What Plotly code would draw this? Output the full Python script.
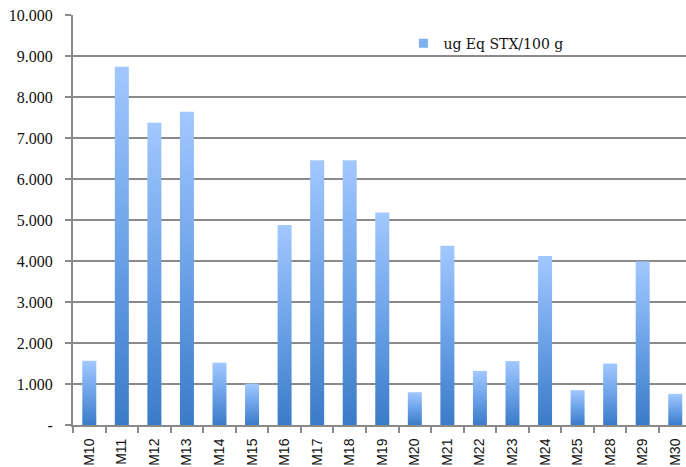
import plotly.graph_objects as go

# Toxicity per sample (ug Eq STX/100 g)
samples = ["M10", "M11", "M12", "M13", "M14", "M15", "M16", "M17", "M18", "M19",
           "M20", "M21", "M22", "M23", "M24", "M25", "M28", "M29", "M30"]
toxicity = [1570, 8740, 7370, 7640, 1520, 1010, 4880, 6460, 6460, 5180,
            800, 4370, 1320, 1560, 4120, 850, 1500, 3990, 760]
series_name = "ug Eq STX/100 g"

y_tick_values = [0, 1000, 2000, 3000, 4000, 5000, 6000, 7000, 8000, 9000, 10000]
y_tick_labels = ["-", "1.000", "2.000", "3.000", "4.000", "5.000",
                 "6.000", "7.000", "8.000", "9.000", "10.000"]

DARK = "#3a7bc8"
MID = "#6ca2e8"
LIGHT = "#a2c8ff"
GRID = "#8a8a8a"
HALF_W = 0.215

fig = go.Figure()

# each bar is a filled rectangle with its own vertical gradient (dark bottom, light top)
for i, v in enumerate(toxicity):
    fig.add_trace(go.Scatter(
        x=[i - HALF_W, i - HALF_W, i + HALF_W, i + HALF_W, i - HALF_W],
        y=[0, v, v, 0, 0],
        mode="lines",
        line=dict(width=0, color=MID),
        fill="toself",
        fillgradient=dict(type="vertical", start=0, stop=v,
                          colorscale=[[0, DARK], [0.5, MID], [1, LIGHT]]),
        showlegend=False,
        hoverinfo="skip",
    ))

# legend entry for the series
fig.add_trace(go.Scatter(
    x=[None], y=[None], mode="markers", name=series_name,
    marker=dict(symbol="square", size=9, color="#7eb0f2"),
))

fig.update_layout(
    width=686, height=467,
    margin=dict(l=73, r=0, t=15, b=42),
    paper_bgcolor="white", plot_bgcolor="white",
    showlegend=True,
    legend=dict(x=0.539, y=0.93, xanchor="left", yanchor="middle",
                bgcolor="rgba(0,0,0,0)",
                font=dict(family="DejaVu Serif", size=14, color="#111")),
    xaxis=dict(
        range=[-0.5, 18.33], automargin=False,
        tickvals=list(range(len(samples))), ticktext=samples,
        tickangle=-90, ticks="",
        tickfont=dict(family="Liberation Sans", size=14, color="#111"),
        ticklabelstandoff=6,
        showgrid=False, zeroline=False,
        showline=True, linecolor=GRID, linewidth=2,
        minor=dict(ticks="outside", tick0=0.5, dtick=1, ticklen=6,
                   tickcolor=GRID, tickwidth=2, showgrid=False),
    ),
    yaxis=dict(
        range=[0, 10000], automargin=False,
        tickvals=y_tick_values, ticktext=y_tick_labels,
        ticks="outside", ticklen=6, tickcolor=GRID, tickwidth=2,
        ticklabelstandoff=9,
        tickfont=dict(family="Liberation Serif", size=16, color="#111"),
        showgrid=True, gridcolor=GRID, gridwidth=2,
        zeroline=False,
        showline=True, linecolor=GRID, linewidth=2,
    ),
)

fig.write_html("out.html")
